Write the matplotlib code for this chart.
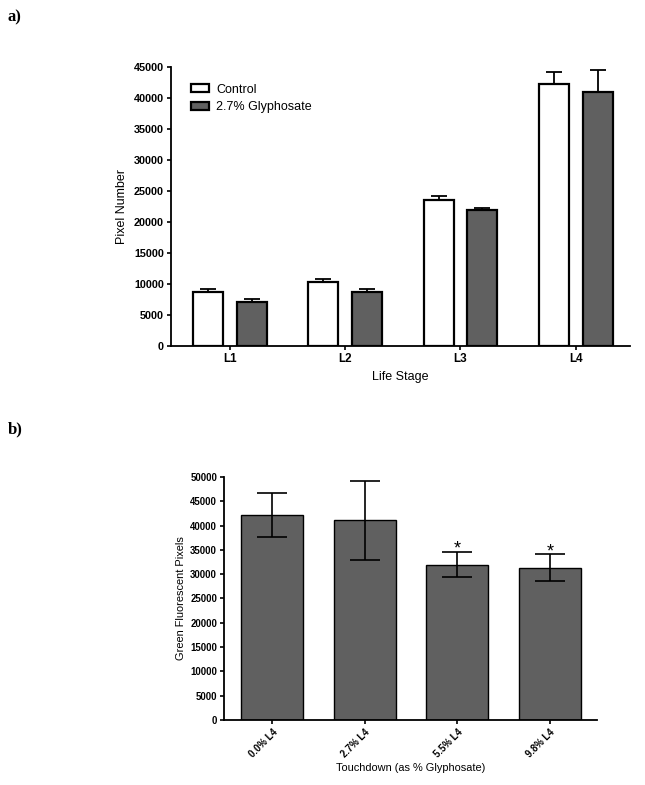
import matplotlib
matplotlib.use("Agg")
import matplotlib.pyplot as plt
import numpy as np

plt.rcParams['font.family'] = ['Liberation Sans', 'DejaVu Sans']

###############
### data a) ###
###############

stages = ['L1', 'L2', 'L3', 'L4']
control_mean = [8750, 10250, 23600, 42200]
control_err = [380, 600, 600, 2000]
glyph_mean = [7050, 8650, 21900, 41000]
glyph_err = [550, 550, 300, 3600]
series_names = ['Control', '2.7% Glyphosate']

###############
### data b) ###
###############

touch_labels = ['0.0% L4', '2.7% L4', '5.5% L4', '9.8% L4']
touch_mean = [42200, 41050, 31950, 31300]
touch_err = [4500, 8100, 2550, 2750]
touch_sig = ['', '', '*', '*']

dark = '#606060'

fig = plt.figure(figsize=(6.45, 7.85), dpi=100)

def style_axes(ax):
    for s in ['top', 'right']:
        ax.spines[s].set_visible(False)
    for s in ['left', 'bottom']:
        ax.spines[s].set_linewidth(1.3)
    ax.tick_params(direction='out', width=1.2, length=3, pad=2)
    for lab in ax.get_yticklabels() + ax.get_xticklabels():
        lab.set_fontweight('bold')

############
### a) #####
############

ax1 = fig.add_axes([0.2651, 0.5592, 0.7116, 0.3554])
x = np.arange(len(stages))
w = 0.26
off = 0.19
ax1.bar(x - off, control_mean, w, color='white', edgecolor='black', linewidth=1.6,
        label=series_names[0], zorder=2)
ax1.bar(x + off, glyph_mean, w, color=dark, edgecolor='black', linewidth=1.6,
        label=series_names[1], zorder=2)
ax1.errorbar(x - off, control_mean, yerr=[np.zeros(4), control_err], fmt='none',
             ecolor='black', elinewidth=1.3, capsize=5.5, capthick=1.3, zorder=1)
ax1.errorbar(x + off, glyph_mean, yerr=[np.zeros(4), glyph_err], fmt='none',
             ecolor='black', elinewidth=1.3, capsize=5.5, capthick=1.3, zorder=1)
ax1.set_xlim(-0.51, 3.47)
ax1.set_ylim(0, 45000)
ax1.set_yticks(np.arange(0, 45001, 5000))
ax1.set_xticks(x)
ax1.set_xticklabels(stages)
ax1.tick_params(axis='y', labelsize=7.8)
ax1.tick_params(axis='x', labelsize=8.4)
ax1.set_ylabel('Pixel Number', fontsize=9, labelpad=4)
ax1.set_xlabel('Life Stage', fontsize=9, labelpad=4)
style_axes(ax1)
leg = ax1.legend(loc='upper left', bbox_to_anchor=(0.02, 0.98), frameon=False,
                 fontsize=9, handlelength=1.4, handleheight=0.6,
                 labelspacing=0.45, handletextpad=0.6)

############
### b) #####
############

ax2 = fig.add_axes([0.3473, 0.0828, 0.5783, 0.3096])
x2 = np.arange(len(touch_labels))
ax2.bar(x2, touch_mean, 0.67, color=dark, edgecolor='black', linewidth=1.0, zorder=1)
ax2.errorbar(x2, touch_mean, yerr=touch_err, fmt='none', ecolor='black',
             elinewidth=1.2, capsize=11, capthick=1.2, zorder=2)
for xi, m, e, s in zip(x2, touch_mean, touch_err, touch_sig):
    if s:
        ax2.annotate(s, (xi, m + e), xytext=(0, -4), textcoords='offset points',
                     ha='center', va='bottom', fontsize=13)
ax2.set_xlim(-0.52, 3.51)
ax2.set_ylim(0, 50000)
ax2.set_yticks(np.arange(0, 50001, 5000))
ax2.set_xticks(x2)
ax2.set_xticklabels(touch_labels, rotation=45, ha='right', rotation_mode='anchor')
ax2.tick_params(axis='y', labelsize=6.9)
ax2.tick_params(axis='x', labelsize=6.9)
ax2.set_ylabel('Green Fluorescent Pixels', fontsize=7.9, labelpad=3)
ax2.set_xlabel('Touchdown (as % Glyphosate)', fontsize=7.9, labelpad=3)
style_axes(ax2)

# panel letters
fig.text(8 / 645, 1 - 21 / 785, 'a)', family='Liberation Serif', fontweight='bold', fontsize=12)
fig.text(8 / 645, 1 - 433 / 785, 'b)', family='Liberation Serif', fontweight='bold', fontsize=12)

fig.savefig('out.png', dpi=100)
